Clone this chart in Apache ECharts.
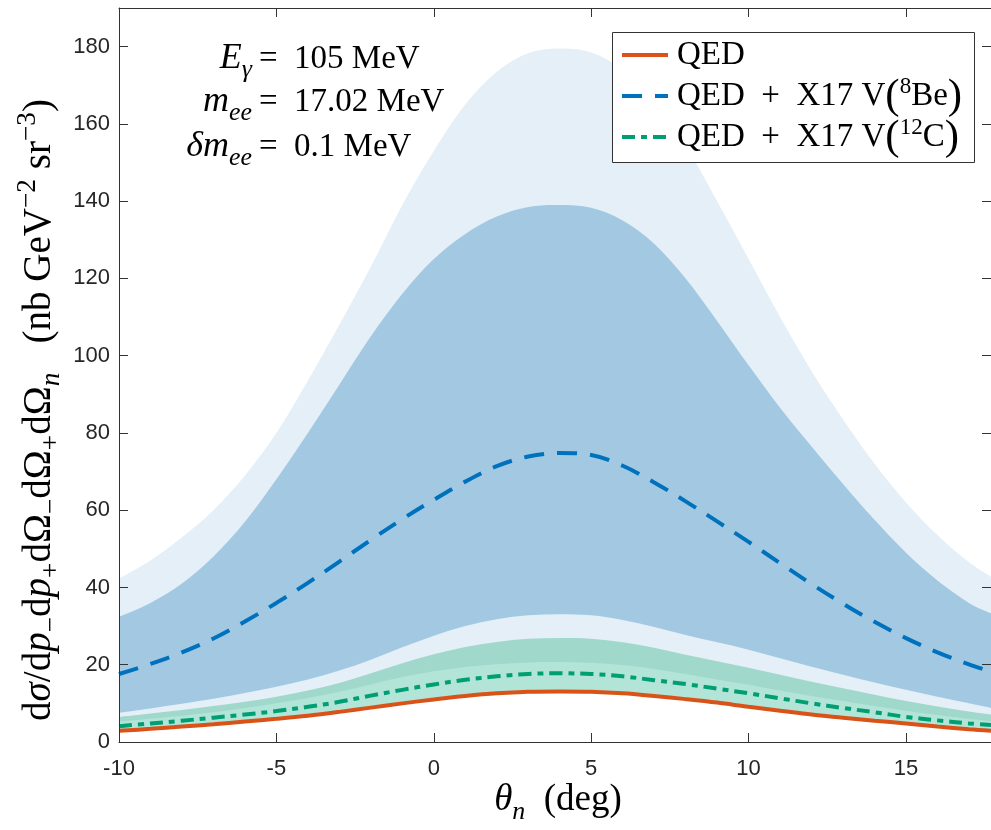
<!DOCTYPE html>
<html>
<head>
<meta charset="UTF-8">
<script src="https://cdn.jsdelivr.net/npm/echarts@6/dist/echarts.min.js"></script>
<style>
  html, body { margin: 0; padding: 0; background: #fff; }
  #main { width: 991px; height: 830px; }
</style>
<title>X17</title>
</head>
<body>
<div id="main"></div>
<script type="text/javascript">
// theta_n (deg)
var theta = [-10,-9,-8,-7,-6,-5,-4,-3,-2,-1,0,1,2,3,4,5,6,7,8,9,10,11,12,13,14,15,16,17,17.7];
// curves
var qed   = [2.9,3.4,4.0,4.6,5.3,6.0,6.8,7.8,8.9,10.0,11.0,11.9,12.6,13.0,13.1,13.0,12.6,11.9,11.1,10.2,9.1,8.1,7.1,6.3,5.5,4.8,4.0,3.3,2.9];
var x17Be = [17.6,20.2,23.2,26.8,31.2,36.0,41.2,46.7,52.3,57.7,62.7,67.4,71.4,73.9,74.8,74.3,71.5,67.2,62.3,57.1,51.8,46.3,40.9,35.8,31.1,26.9,23.2,20.1,18.2];
var x17C  = [4.1,4.8,5.5,6.3,7.1,8.0,9.1,10.4,12.0,13.5,14.9,16.1,17.0,17.6,17.8,17.6,17.0,16.0,15.0,13.8,12.6,11.3,10.0,8.8,7.7,6.5,5.6,4.8,4.4];
// bands (8Be outer / inner, 12C outer / inner); lower edges under the green bands sit on the QED curve
var beOuterHi = [42.3,47,53,60,69,80,93.5,108,123,139,153,165,173.5,178.3,179.5,178.5,174,166,154.5,140,125,110,96,83.5,72,62,53.5,46.5,42.8];
var beInnerHi = [32.4,36,41,48,57,68,80,92.5,105,116,125,131.5,136,138.5,139,138.3,135,129,120,109,97.5,86.5,76.5,66.8,57.5,49,41.8,36,33.3];
var beInnerLo = [7.6,8.7,9.9,11.2,12.7,14.3,16.2,18.5,21.3,24.5,27.5,30,31.8,32.8,33.1,32.8,31.6,29.8,27.7,25.8,23.9,21.7,19.5,17.4,15.4,13.5,11.7,10,8.8];
var cOuterHi  = [6.5,7.4,8.3,9.3,10.4,11.7,13.3,15.3,17.8,20.4,22.7,24.6,25.9,26.7,26.9,26.7,25.8,24.4,22.6,20.9,19.2,17.4,15.6,13.9,12.2,10.6,9.2,7.9,7.1];
var cInnerHi  = [5.3,6.0,6.8,7.7,8.8,10.0,11.4,13.0,14.9,16.8,18.3,19.4,20.1,20.6,20.7,20.5,19.9,18.9,17.6,16.2,14.8,13.3,11.9,10.6,9.3,8.1,7.0,6.0,5.4];

var SERIF = '"Liberation Serif", "Times New Roman", serif';
var SANS = '"Liberation Sans", Arial, sans-serif';

function zip(xs, ys) {
    return xs.map(function (x, i) { return [x, ys[i]]; });
}

// catmull-rom through the screen points
function curvePath(pts) {
    var d = '';
    for (var i = 0; i < pts.length - 1; i++) {
        var p0 = pts[Math.max(i - 1, 0)], p1 = pts[i], p2 = pts[i + 1], p3 = pts[Math.min(i + 2, pts.length - 1)];
        d += ' C' + (p1[0] + (p2[0] - p0[0]) / 6) + ',' + (p1[1] + (p2[1] - p0[1]) / 6) +
             ' ' + (p2[0] - (p3[0] - p1[0]) / 6) + ',' + (p2[1] - (p3[1] - p1[1]) / 6) +
             ' ' + p2[0] + ',' + p2[1];
    }
    return d;
}

function band(lo, hi, color) {
    return {
        type: 'custom', silent: true, clip: true, z: 1,
        data: theta.map(function (t, i) { return [t, lo[i], hi[i]]; }),
        encode: { x: 0, y: [1, 2] },
        renderItem: function (params, api) {
            if (params.dataIndex !== 0) return null;
            var top = theta.map(function (t, i) { return api.coord([t, hi[i]]); });
            var bot = theta.map(function (t, i) { return api.coord([t, lo[i]]); }).reverse();
            var d = 'M' + top[0].join(',') + curvePath(top) + ' L' + bot[0].join(',') + curvePath(bot) + ' Z';
            return { type: 'path', shape: { pathData: d }, style: { fill: color } };
        }
    };
}

// text pieces: flags i = italic, s = subscript, S = superscript, B = big paren
var mctx = document.createElement('canvas').getContext('2d');
function run(parts, x, yBase, size, anchor, subK) {
    subK = subK || 0.7;
    var items = [], w = 0;
    parts.forEach(function (p) {
        var st = p[1] || '';
        var sub = st.indexOf('s') >= 0, sup = st.indexOf('S') >= 0, big = st.indexOf('B') >= 0;
        var italic = st.indexOf('i') >= 0;
        var fs = (sub || sup) ? size * subK : (big ? size * 1.3 : size);
        var dy = sub ? size * 0.22 : (sup ? -size * 0.4 : (big ? size * 0.08 : 0));
        mctx.font = (italic ? 'italic ' : '') + fs + 'px ' + SERIF;
        items.push({ t: p[0], x: w, dy: dy, fs: fs, it: italic });
        w += mctx.measureText(p[0]).width;
    });
    var x0 = anchor === 'right' ? x - w : (anchor === 'center' ? x - w / 2 : x);
    return items.map(function (it) {
        return {
            type: 'text', z: 20, silent: true,
            x: x0 + it.x, y: yBase + it.dy - it.fs * 0.31,
            style: {
                text: it.t, fontFamily: SERIF, fontSize: it.fs,
                fontStyle: it.it ? 'italic' : 'normal', fill: '#000',
                align: 'left', verticalAlign: 'middle'
            }
        };
    });
}

var graphics = [];
// annotation, aligned on "="
var eqX = 259;
graphics = graphics.concat(
    run([['E', 'i'], ['γ', 'is']], eqX - 7, 70, 36, 'right', 0.72),
    run([['=  105 MeV', '']], eqX, 70, 33, 'left'),
    run([['m', 'i'], ['ee', 'is']], eqX - 7, 113, 36, 'right', 0.72),
    run([['=  17.02 MeV', '']], eqX, 113, 33, 'left'),
    run([['δm', 'i'], ['ee', 'is']], eqX - 7, 158, 36, 'right', 0.72),
    run([['=  0.1 MeV', '']], eqX, 158, 33, 'left')
);

// legend
var legRows = [
    { y: 55, color: '#D95319', dash: null, parts: [['QED', '']] },
    { y: 96, color: '#0072BD', dash: [20, 13], parts: [['QED  +  X17 V', ''], ['(', 'B'], ['8', 'S'], ['Be', ''], [')', 'B']] },
    { y: 137, color: '#009E73', dash: [13, 6, 6, 6], parts: [['QED  +  X17 V', ''], ['(', 'B'], ['12', 'S'], ['C', ''], [')', 'B']] }
];
graphics.push({
    type: 'rect', z: 15, silent: true,
    shape: { x: 612.5, y: 32.5, width: 362, height: 130 },
    style: { fill: '#fff', stroke: '#333', lineWidth: 1 }
});
legRows.forEach(function (r) {
    graphics.push({
        type: 'line', z: 16, silent: true,
        shape: { x1: 622, y1: r.y, x2: 668, y2: r.y },
        style: { stroke: r.color, lineWidth: 4, lineDash: r.dash }
    });
    graphics = graphics.concat(run(r.parts, 677, r.y + 11, 33, 'left'));
});

// axis names
graphics = graphics.concat(run([['θ', 'i'], ['n', 'is'], ['  (deg)', '']], 558, 812, 37, 'center'));
graphics.push({
    type: 'group', x: 40, y: 410, rotation: Math.PI / 2, z: 20,
    children: run([
        ['d', ''], ['σ', 'i'], ['/d', ''], ['p', 'i'], ['−', 's'], ['d', ''], ['p', 'i'], ['+', 's'],
        ['dΩ', ''], ['−', 's'], ['dΩ', ''], ['+', 's'], ['dΩ', ''], ['n', 'is'],
        ['   (nb GeV', ''], ['−2', 'S'], [' sr', ''], ['−3', 'S'], [')', '']
    ], 0, 12, 39, 'center')
});

var axisCol = '#333';
function axisBase(pos, labels) {
    return {
        type: 'value', position: pos, z: 10,
        axisLine: { show: true, onZero: false, lineStyle: { color: axisCol, width: 1 } },
        axisTick: { show: true, inside: true, length: 9, lineStyle: { color: axisCol } },
        axisLabel: labels ? { fontSize: 22, color: '#262626', fontFamily: SANS, showMaxLabel: false } : { show: false },
        splitLine: { show: false }
    };
}
var xb = axisBase('bottom', true), xt = axisBase('top', false);
var yl = axisBase('left', true), yr = axisBase('right', false);
[xb, xt].forEach(function (a) { a.min = -10; a.max = 17.7; a.interval = 5; });
[yl, yr].forEach(function (a) { a.min = 0; a.max = 190; a.interval = 20; });
xb.axisLabel.margin = 16;
yl.axisLabel.margin = 9;

var myChart = echarts.init(document.getElementById('main'));
var option = {
    animation: false,
    backgroundColor: '#fff',
    grid: { left: 119, right: 0, top: 8, bottom: 88, outerBoundsMode: 'none' },
    xAxis: [xb, xt],
    yAxis: [yl, yr],
    series: [
        band(qed, beOuterHi, '#e4eff7'),
        band(beInnerLo, beInnerHi, '#a3c9e2'),
        band(qed, cOuterHi, '#a0d8cc'),
        band(qed, cInnerHi, '#b2e4d7'),
        {
            name: 'QED', type: 'line', data: zip(theta, qed), smooth: 0.35, showSymbol: false, z: 5,
            lineStyle: { color: '#D95319', width: 4 }
        },
        {
            name: 'QED + X17 V(8Be)', type: 'line', data: zip(theta, x17Be), smooth: 0.35, showSymbol: false, z: 5,
            lineStyle: { color: '#0072BD', width: 4, type: [20, 13] }
        },
        {
            name: 'QED + X17 V(12C)', type: 'line', data: zip(theta, x17C), smooth: 0.35, showSymbol: false, z: 6,
            lineStyle: { color: '#009E73', width: 4, type: [13, 6, 6, 6] }
        }
    ],
    graphic: graphics
};
myChart.setOption(option);
</script>
</body>
</html>
